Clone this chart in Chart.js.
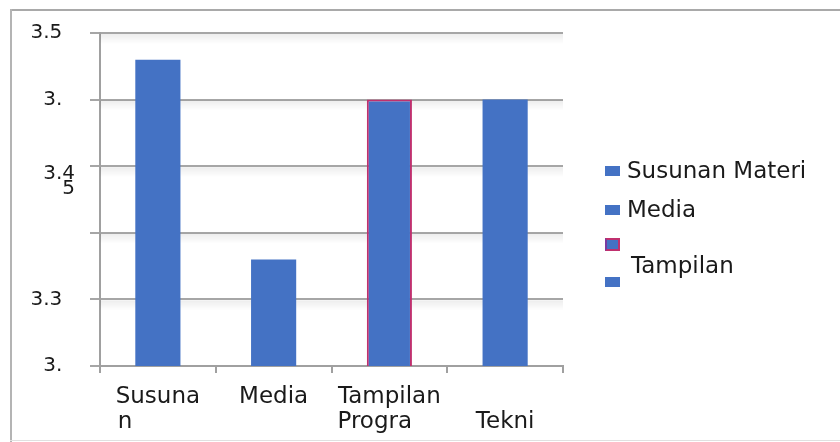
<!DOCTYPE html>
<html>
<head>
<meta charset="utf-8">
<script src="https://cdn.jsdelivr.net/npm/chart.js@4"></script>
<style>
  html, body { margin: 0; padding: 0; background: #fff; overflow: hidden; }
  #wrap { position: relative; width: 840px; height: 442px; overflow: hidden; }
  .edge { position: absolute; }
  #edgeTop { left: 10px; top: 9px; width: 900px; height: 2px; background: #a9a9a9; }
  #edgeLeft { left: 10px; top: 9px; width: 2px; height: 433px; background: #b4b4b4; }
  #edgeBottom { left: 10px; top: 440px; width: 900px; height: 1px; background: #e0e0e0; }
  canvas { position: absolute; left: 0; top: 0; }
  .item { position: absolute; left: 605px; height: 20px; }
  .box { position: absolute; left: 0; top: 5px; width: 15px; height: 10px; box-sizing: border-box; }
  .txt { position: absolute; left: 22px; top: -4px; line-height: 20px; white-space: pre;
         font: 23px "DejaVu Sans"; color: #1a1a1a; }
  .txt.two { top: -8px; left: 26px; }
  .item:nth-child(1) { top: 161px; }
  .item:nth-child(2) { top: 200px; }
  .item:nth-child(3) { top: 234px; }
  .item:nth-child(4) { top: 272px; }
</style>
</head>
<body>
<div id="wrap">
  <div class="edge" id="edgeTop"></div>
  <div class="edge" id="edgeLeft"></div>
  <div class="edge" id="edgeBottom"></div>
  <canvas id="chart" width="840" height="442"></canvas>
  <div id="legend"></div>
</div>
<script>
document.addEventListener('DOMContentLoaded', () => {
    // categories and values
    const categories = ['Susunan', 'Media', 'Tampilan Program', 'Teknis'];
    const values = [3.48, 3.33, 3.45, 3.45];
    // what the picture shows as x labels (cut off in the original)
    const xTickLabels = [['Susuna', 'n         '], 'Media', ['Tampilan', 'Progra    '], ['', 'Tekni']];
    // legend texts as shown
    const legendLabels = ['Susunan Materi', 'Media', '\nTampilan', ''];
    // y ticks, bottom to top
    const yTickValues = [3.25, 3.3, 3.35, 3.4, 3.45, 3.5];
    const yTickLabels = ['3.  ', '3.3  ', '', ['', '', '3.4', '5'], '3.  ', '3.5  '];

    const barColor = '#4472C4';
    const borderColors = [barColor, barColor, '#C0306E', barColor];

    const datasets = categories.map((c, i) => ({
        label: c,
        data: categories.map((_, j) => (i === j ? values[i] : null)),
        backgroundColor: barColor,
        borderColor: borderColors[i],
        borderWidth: i === 2 ? 2 : 0
    }));

    // soft shadow under the horizontal grid lines, like the original
    const gridShadow = {
        id: 'gridShadow',
        beforeDatasetsDraw(chart) {
            const { ctx, chartArea, scales } = chart;
            ctx.save();
            scales.y.ticks.forEach((t) => {
                const y = scales.y.getPixelForValue(t.value);
                if (y >= chartArea.bottom - 1) return;
                const g = ctx.createLinearGradient(0, y + 1, 0, y + 11);
                g.addColorStop(0, 'rgba(0,0,0,0.07)');
                g.addColorStop(1, 'rgba(0,0,0,0)');
                ctx.fillStyle = g;
                ctx.fillRect(chartArea.left, y + 1, chartArea.right - chartArea.left, 10);
            });
            ctx.restore();
        }
    };

    const ctx = document.getElementById('chart').getContext('2d');
    new Chart(ctx, {
        type: 'bar',
        data: { labels: xTickLabels, datasets: datasets },
        plugins: [gridShadow],
        options: {
            responsive: false,
            animation: false,
            devicePixelRatio: 1,
            grouped: false,
            categoryPercentage: 1,
            barPercentage: 0.39,
            layout: { padding: { left: 10, top: 33, right: 277, bottom: 0 } },
            plugins: { legend: { display: false }, tooltip: { enabled: false } },
            scales: {
                x: {
                    grid: { display: true, drawOnChartArea: false, drawTicks: true, tickLength: 7, color: '#a0a0a0', lineWidth: 2 },
                    border: { color: '#a0a0a0', width: 2 },
                    ticks: {
                        color: '#1a1a1a',
                        font: { family: 'DejaVu Sans', size: 23, lineHeight: 1.1 },
                        maxRotation: 0, autoSkip: false, padding: 11
                    },
                    afterFit: (s) => { s.height = 76; }
                },
                y: {
                    min: 3.25,
                    max: 3.5,
                    afterBuildTicks: (s) => { s.ticks = yTickValues.map(v => ({ value: v })); },
                    grid: { color: '#a6a6a6', lineWidth: 2, tickLength: 10 },
                    border: { color: '#a0a0a0', width: 2 },
                    ticks: {
                        color: '#1a1a1a',
                        autoSkip: false,
                        padding: 15,
                        font: { family: 'DejaVu Sans', size: 20, lineHeight: 0.75 },
                        callback: (v, i) => yTickLabels[i]
                    },
                    afterFit: (s) => { s.width = 90; }
                }
            }
        }
    });

    const legend = document.getElementById('legend');
    legendLabels.forEach((t, i) => {
        const item = document.createElement('div');
        item.className = 'item';
        const box = document.createElement('span');
        box.className = 'box';
        box.style.background = barColor;
        if (borderColors[i] !== barColor) {
            box.style.border = '2px solid ' + borderColors[i];
            box.style.borderLeftColor = '#7a3aa0';
            box.style.top = '4px';
            box.style.height = '13px';
        }
        const txt = document.createElement('span');
        txt.className = t.includes('\n') ? 'txt two' : 'txt';
        txt.textContent = t;
        item.appendChild(box);
        item.appendChild(txt);
        legend.appendChild(item);
    });
});
</script>
</body>
</html>
